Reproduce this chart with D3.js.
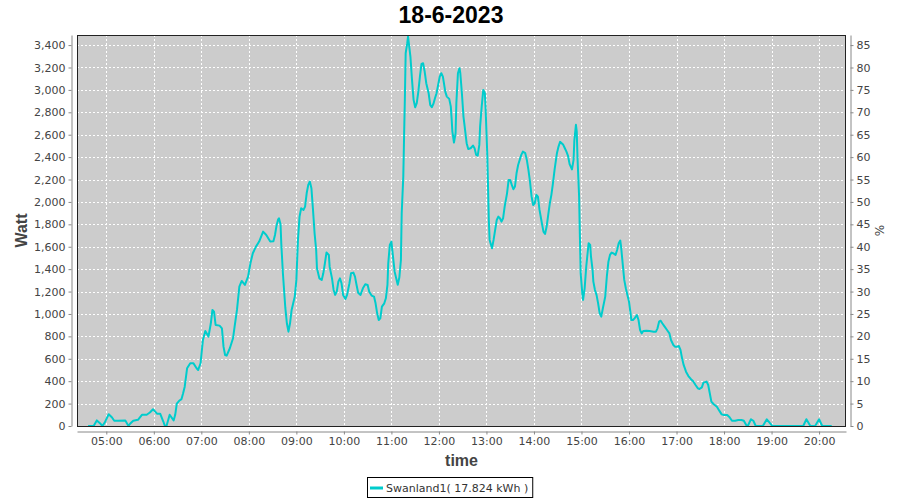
<!DOCTYPE html>
<html><head><meta charset="utf-8">
<script src="https://cdn.jsdelivr.net/npm/d3@7"></script>
<style>body{margin:0;background:#fff}</style>
</head><body>
<svg id="c" width="900" height="500"></svg>
<script>
const title = "18-6-2023";
const seriesName = "Swanland1( 17.824 kWh )";
const xLabel = "time", yLabel = "Watt", y2Label = "%";
const times = ["04:37","04:44","04:48","04:52","04:55","04:58","05:03","05:07","05:10","05:15","05:24","05:28","05:30","05:34","05:40","05:45","05:51","05:55","05:59","06:04","06:08","06:12","06:14","06:16","06:20","06:25","06:27","06:29","06:32","06:35","06:37","06:39","06:42","06:46","06:50","06:54","06:56","06:59","07:02","07:05","07:09","07:12","07:14","07:16","07:18","07:23","07:26","07:28","07:30","07:32","07:36","07:40","07:42","07:45","07:48","07:51","07:55","07:59","08:02","08:05","08:09","08:13","08:18","08:22","08:27","08:31","08:33","08:35","08:37","08:38","08:40","08:41","08:43","08:46","08:48","08:50","08:52","08:54","08:56","08:58","09:00","09:02","09:04","09:06","09:09","09:11","09:13","09:15","09:17","09:19","09:21","09:23","09:25","09:26","09:29","09:32","09:34","09:36","09:38","09:41","09:42","09:45","09:47","09:49","09:51","09:53","09:55","09:57","09:59","10:02","10:04","10:07","10:09","10:12","10:14","10:16","10:18","10:21","10:24","10:27","10:30","10:32","10:35","10:38","10:40","10:42","10:44","10:46","10:48","10:51","10:53","10:55","10:56","10:58","11:00","11:02","11:04","11:07","11:08","11:10","11:12","11:13","11:15","11:16","11:17","11:18","11:20","11:21","11:22","11:24","11:26","11:28","11:30","11:32","11:34","11:36","11:38","11:40","11:42","11:44","11:47","11:49","11:51","11:53","11:55","11:57","11:59","12:01","12:03","12:05","12:08","12:10","12:13","12:15","12:16","12:17","12:19","12:21","12:22","12:24","12:26","12:27","12:29","12:31","12:33","12:35","12:37","12:40","12:43","12:45","12:47","12:49","12:51","12:52","12:54","12:56","12:58","12:59","13:01","13:02","13:03","13:04","13:07","13:09","13:11","13:13","13:15","13:17","13:19","13:21","13:23","13:26","13:28","13:30","13:32","13:34","13:36","13:38","13:40","13:42","13:44","13:46","13:49","13:51","13:53","13:55","13:57","13:59","14:01","14:03","14:05","14:07","14:10","14:12","14:14","14:16","14:18","14:20","14:22","14:24","14:26","14:29","14:31","14:33","14:35","14:37","14:39","14:41","14:43","14:45","14:48","14:50","14:51","14:53","14:54","14:55","14:57","14:58","14:59","15:01","15:02","15:04","15:06","15:09","15:11","15:12","15:14","15:15","15:17","15:19","15:21","15:23","15:25","15:27","15:30","15:32","15:34","15:36","15:38","15:40","15:43","15:45","15:47","15:49","15:50","15:52","15:54","15:56","15:58","16:00","16:02","16:03","16:05","16:07","16:10","16:12","16:14","16:16","16:18","16:22","16:26","16:31","16:34","16:36","16:38","16:40","16:42","16:45","16:48","16:51","16:53","16:56","16:58","17:01","17:03","17:05","17:07","17:09","17:12","17:15","17:18","17:21","17:24","17:27","17:29","17:32","17:34","17:38","17:40","17:42","17:44","17:47","17:51","17:54","17:57","18:00","18:04","18:07","18:10","18:14","18:18","18:22","18:25","18:28","18:30","18:34","18:37","18:40","18:49","18:54","18:58","19:01","19:40","19:44","19:49","19:55","20:00","20:04","20:16"];
const watts = [0,0,50,25,0,30,105,78,47,47,50,0,20,47,55,100,100,120,150,110,110,40,0,0,100,50,100,200,225,240,292,351,515,560,560,515,500,560,768,848,798,917,1036,1021,902,896,872,708,634,628,694,783,887,1036,1244,1295,1259,1333,1453,1542,1601,1646,1735,1705,1646,1650,1705,1790,1845,1854,1800,1620,1363,1058,917,842,917,1036,1095,1155,1304,1661,1869,1943,1929,1958,2077,2152,2182,2122,1929,1720,1571,1408,1318,1304,1363,1452,1548,1527,1422,1318,1214,1170,1199,1289,1318,1274,1170,1134,1170,1274,1363,1369,1333,1259,1190,1170,1229,1265,1259,1199,1164,1155,1095,1006,946,961,1065,1095,1140,1259,1452,1616,1646,1512,1380,1290,1260,1325,1482,1899,2226,2583,2926,3327,3417,3476,3417,3298,3089,2911,2845,2881,2985,3119,3232,3238,3164,3060,2970,2866,2845,2875,2926,2970,3045,3119,3149,3119,2985,2940,2920,2851,2747,2628,2530,2613,2881,3149,3194,3149,2970,2762,2643,2524,2473,2479,2503,2479,2420,2413,2509,2672,2851,3000,2970,2821,2435,2137,1839,1661,1586,1661,1750,1839,1869,1854,1824,1854,1958,2077,2196,2196,2152,2113,2137,2256,2330,2375,2420,2449,2435,2375,2286,2182,2047,1973,1988,2063,2047,1929,1810,1735,1714,1780,1884,1988,2063,2167,2286,2435,2494,2536,2524,2510,2479,2449,2412,2338,2290,2375,2550,2688,2630,2390,2047,1690,1363,1185,1125,1229,1422,1631,1616,1512,1393,1289,1214,1170,1095,1006,976,1051,1155,1333,1467,1527,1548,1542,1527,1571,1631,1655,1601,1452,1304,1229,1170,1110,1006,946,946,961,991,946,857,827,848,851,848,842,842,872,931,940,917,887,857,827,768,723,708,708,714,679,604,545,485,446,420,400,366,336,330,345,387,396,366,292,217,194,172,137,104,98,98,78,47,47,54,54,47,9,0,60,47,0,0,60,25,0,0,60,0,0,60,0,0];
const hourTicks = ["05:00","06:00","07:00","08:00","09:00","10:00","11:00","12:00","13:00","14:00","15:00","16:00","17:00","18:00","19:00","20:00"];
const wattTicks = [0,200,400,600,800,1000,1200,1400,1600,1800,2000,2200,2400,2600,2800,3000,3200,3400];
const pctTicks = [0,5,10,15,20,25,30,35,40,45,50,55,60,65,70,75,80,85];
const xRange = ["04:23","20:34"];
const wattMax = 3490;
const wattPerPct = 40;

const parse = d3.timeParse("%H:%M");
const data = times.map((t,i)=>({t:parse(t), v:watts[i]}));

const L=77, R=846, T=35, B=426;
const svg = d3.select("#c");
const x = d3.scaleTime().domain(xRange.map(parse)).range([L,R]);
const y = d3.scaleLinear().domain([0,wattMax]).range([B,T]);
const y2 = d3.scaleLinear().domain([0,wattMax/wattPerPct]).range([B,T]);
const font = "DejaVu Sans, Verdana, sans-serif";
const lfont = "Liberation Sans, Arial, sans-serif";

svg.append("text").attr("x",451).attr("y",23).attr("text-anchor","middle")
  .attr("font-family",lfont).attr("font-weight","bold").attr("font-size",23).attr("fill","#000").text(title);

svg.append("rect").attr("x",L).attr("y",T).attr("width",R-L).attr("height",B-T).attr("fill","#cccccc");

const grid = svg.append("g").attr("stroke","#fff").attr("stroke-width",1).attr("stroke-dasharray","2,2");
grid.selectAll(".v").data(hourTicks.map(parse)).join("line")
  .attr("x1",d=>Math.round(x(d))+0.5).attr("x2",d=>Math.round(x(d))+0.5).attr("y1",T).attr("y2",B);
grid.selectAll(".h").data(wattTicks.filter(d=>d>0)).join("line")
  .attr("y1",d=>Math.round(y(d))+0.5).attr("y2",d=>Math.round(y(d))+0.5).attr("x1",L).attr("x2",R);

svg.append("clipPath").attr("id","clip").append("rect").attr("x",L).attr("y",T-2).attr("width",R-L).attr("height",B-T+2);
svg.append("path").datum(data).attr("clip-path","url(#clip)")
  .attr("fill","none").attr("stroke","#00cccc").attr("stroke-width",2).attr("stroke-linejoin","round")
  .attr("d", d3.line().x(d=>x(d.t)).y(d=>y(d.v)));

svg.append("rect").attr("x",L+0.5).attr("y",T+0.5).attr("width",R-L-1).attr("height",B-T).attr("fill","none").attr("stroke","#222").attr("stroke-width",1);

function styleAxis(g){
  g.selectAll("path,line").attr("stroke","#888");
  g.selectAll("text").attr("fill","#444").attr("font-family",font).attr("font-size",11);
}
svg.append("g").attr("transform","translate(71.5,0)")
  .call(d3.axisLeft(y).tickValues(wattTicks).tickFormat(d3.format(",")).tickSizeInner(3).tickSizeOuter(0).tickPadding(3))
  .call(styleAxis);
svg.append("g").attr("transform","translate(850.5,0)")
  .call(d3.axisRight(y2).tickValues(pctTicks).tickFormat(d3.format("d")).tickSizeInner(3).tickSizeOuter(0).tickPadding(3))
  .call(styleAxis);
svg.append("g").attr("transform","translate(0,431.5)")
  .call(d3.axisBottom(x).tickValues(hourTicks.map(parse)).tickFormat(d3.timeFormat("%H:%M")).tickSizeInner(3).tickSizeOuter(0).tickPadding(3))
  .call(styleAxis);

svg.append("text").attr("transform",`translate(27,${(T+B)/2}) rotate(-90)`).attr("text-anchor","middle")
  .attr("font-family",lfont).attr("font-weight","bold").attr("font-size",16).attr("fill","#444").text(yLabel);
svg.append("text").attr("transform",`translate(884,${(T+B)/2}) rotate(-90)`).attr("text-anchor","middle")
  .attr("font-family",font).attr("font-size",12).attr("fill","#444").text(y2Label);
svg.append("text").attr("x",(L+R)/2).attr("y",466).attr("text-anchor","middle")
  .attr("font-family",lfont).attr("font-weight","bold").attr("font-size",16).attr("fill","#444").text(xLabel);

const lg = svg.append("g");
const lt = lg.append("text").attr("x",386).attr("y",492).attr("font-family",font).attr("font-size",11).attr("fill","#333").text(seriesName);
const w = lt.node().getComputedTextLength();
lg.insert("rect","text").attr("x",367.5).attr("y",477.5).attr("width",w+386-367+4).attr("height",20).attr("fill","#fff").attr("stroke","#000");
lg.append("line").attr("x1",370).attr("x2",383).attr("y1",488).attr("y2",488).attr("stroke","#00cccc").attr("stroke-width",3);
</script>
</body></html>
